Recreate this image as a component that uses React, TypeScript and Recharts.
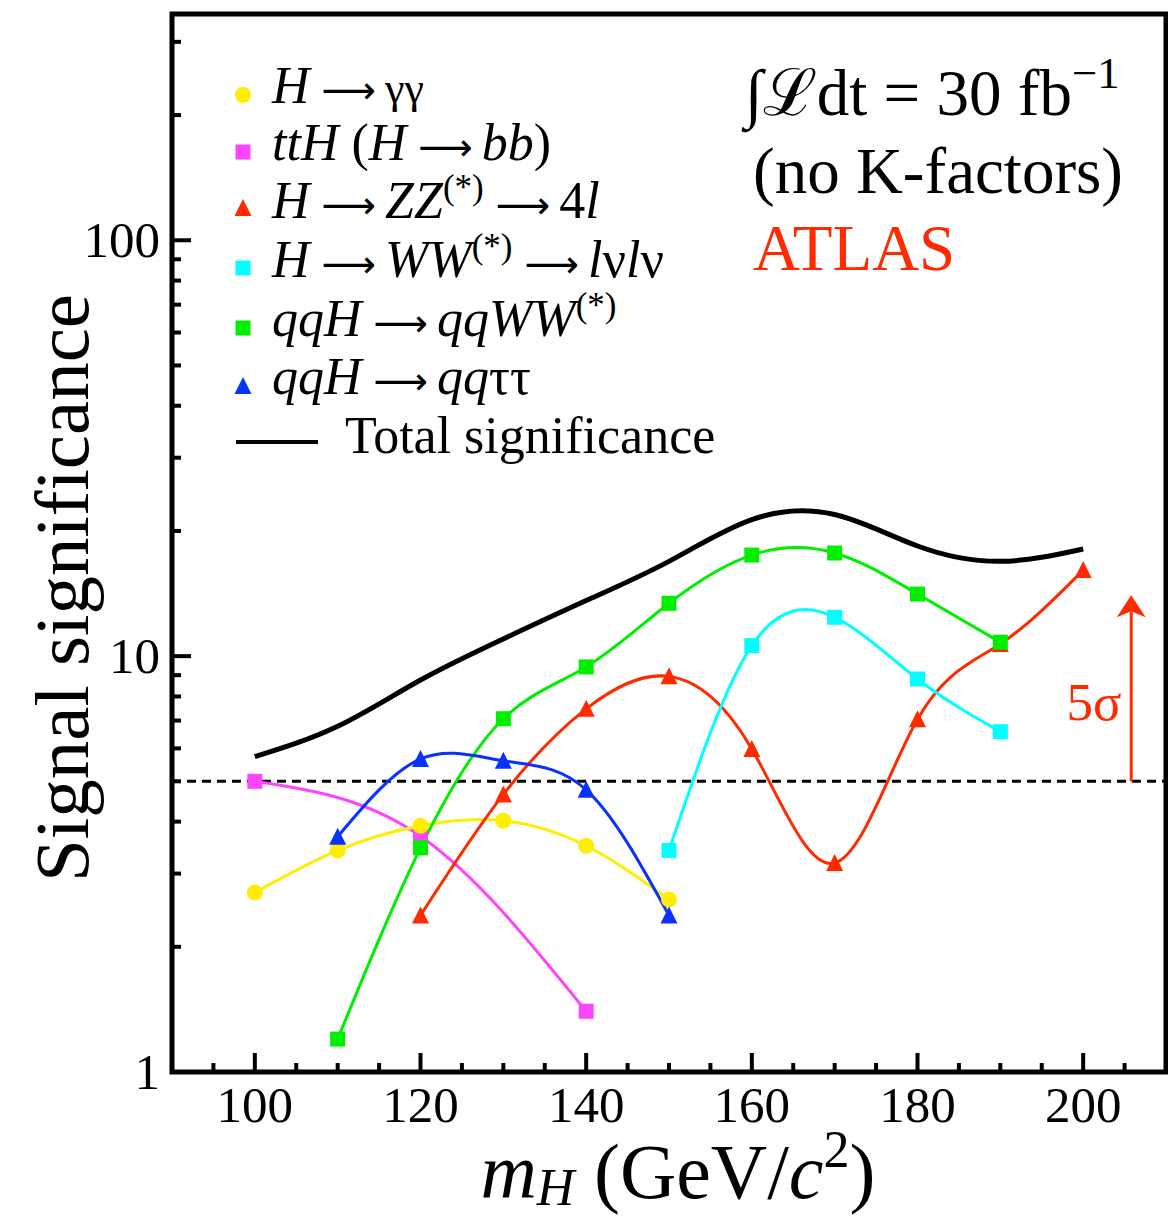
import React from 'react';
import {
  LineChart,
  Line,
  XAxis,
  YAxis,
  ReferenceLine,
  ReferenceArea,
  ReferenceDot,
  Legend,
} from 'recharts';

const SERIF = 'Liberation Serif';
const ARROW_FONT = 'DejaVu Sans';

// Colours of the channels
const YELLOW = '#ffee00';
const MAGENTA = '#ff44ff';
const RED = '#ff2a00';
const CYAN = '#00ffff';
const GREEN = '#00ee00';
const BLUE = '#0a32ff';

// Higgs mass points (GeV/c^2) and expected significances per channel
const massesGammaGamma = [100, 110, 120, 130, 140, 150];
const sigGammaGamma = [2.7, 3.41, 3.91, 4.02, 3.5, 2.6];

const massesTTH = [100, 120, 140];
const sigTTH = [5.0, 3.69, 1.4];

const massesZZ = [120, 130, 140, 150, 160, 170, 180, 190, 200];
const sigZZ = [2.38, 4.65, 7.47, 8.94, 5.98, 3.18, 7.05, 10.7, 16.1];

const massesWW = [150, 160, 170, 180, 190];
const sigWW = [3.41, 10.6, 12.4, 8.81, 6.58];

const massesQQWW = [110, 120, 130, 140, 150, 160, 170, 180, 190];
const sigQQWW = [1.2, 3.46, 7.07, 9.42, 13.4, 17.5, 17.7, 14.1, 10.8];

const massesQQTauTau = [110, 120, 130, 140, 150];
const sigQQTauTau = [3.68, 5.66, 5.6, 4.77, 2.38];

const massesTotal = [100, 110, 120, 130, 140, 150, 160, 170, 180, 190, 200];
const sigTotal = [5.73, 6.78, 8.76, 11.0, 13.6, 16.9, 21.3, 21.9, 18.4, 16.9, 18.1];

// Axes
const X_DOMAIN: [number, number] = [90, 210];
const xTicks = [95, 100, 105, 110, 115, 120, 125, 130, 135, 140, 145, 150, 155, 160, 165, 170, 175, 180, 185, 190, 195, 200, 205];
const xTickLabels = [100, 120, 140, 160, 180, 200];

const Y_DOMAIN: [number, number] = [1, 350];
const yTicks = [1, 2, 3, 4, 5, 6, 7, 8, 9, 10, 20, 30, 40, 50, 60, 70, 80, 90, 100, 200, 300];
const yTickLabels = [1, 10, 100];

// Discovery threshold and its arrow
const FIVE_SIGMA = 5;
const ARROW_MASS = 205.8;
const ARROW_TIP = 14;
const ARROW_SHAFT_END = 12.8;

const toPoints = (ms: number[], vs: number[]) => ms.map((m, i) => ({ m, v: vs[i] }));

const circleDot = (color: string) => (p: any) => {
  if (p.cx == null || p.cy == null) return <g key={`c${p.index}`} />;
  return <circle key={`c${p.index}`} cx={p.cx} cy={p.cy} r={8} fill={color} />;
};

const squareDot = (color: string) => (p: any) => {
  if (p.cx == null || p.cy == null) return <g key={`s${p.index}`} />;
  return <rect key={`s${p.index}`} x={p.cx - 7.5} y={p.cy - 7.5} width={15} height={15} fill={color} />;
};

const triangleDot = (color: string) => (p: any) => {
  if (p.cx == null || p.cy == null) return <g key={`t${p.index}`} />;
  const { cx, cy } = p;
  return (
    <path
      key={`t${p.index}`}
      d={`M${cx},${cy - 9} L${cx + 8.5},${cy + 8} L${cx - 8.5},${cy + 8} Z`}
      fill={color}
    />
  );
};

function XTick(props: any) {
  const { x, y, payload } = props;
  const v = payload.value;
  const major = xTickLabels.includes(v);
  return (
    <g>
      <line x1={x} x2={x} y1={y} y2={y - (major ? 19 : 9)} stroke="#000" strokeWidth={4} />
      {major && (
        <text x={x} y={y + 50} textAnchor="middle" fontSize={51} fontFamily={SERIF} fill="#000">
          {v}
        </text>
      )}
    </g>
  );
}

function YTick(props: any) {
  const { x, y, payload } = props;
  const v = payload.value;
  const major = yTickLabels.includes(v);
  return (
    <g>
      <line x1={x} x2={x + (major ? 19 : 9)} y1={y} y2={y} stroke="#000" strokeWidth={4} />
      {major && (
        <text x={x - 12} y={y + 17} textAnchor="end" fontSize={51} fontFamily={SERIF} fill="#000">
          {v}
        </text>
      )}
    </g>
  );
}

function ArrowHead(props: any) {
  const { cx, cy } = props;
  return (
    <path
      d={`M${cx},${cy} L${cx + 14.5},${cy + 22} L${cx},${cy + 16} L${cx - 14.5},${cy + 22} Z`}
      fill={RED}
    />
  );
}

const LEG_X_MARK = 235;
const LEG_X_TEXT = 264;
const LEG_FONT = 52;
const GREEK_FONT = 44;
const SUP = 35;
const SUP_SHIFT = 19;
const ARROW_SIZE = 38;
const GAP_BEFORE = 12;
const GAP_AFTER = 9;

// Long arrow used in the decay labels
const arrow = (dy?: number) => (
  <tspan fontFamily={ARROW_FONT} fontSize={ARROW_SIZE} dx={GAP_BEFORE} dy={dy}>
    ⟶
  </tspan>
);

function LegendBox() {
  const it = { fontStyle: 'italic' as const };
  return (
    <svg width={760} height={480} style={{ display: 'block', overflow: 'visible' }}>
      <g fontFamily={SERIF} fontSize={LEG_FONT} fill="#000">
        <circle cx={LEG_X_MARK} cy={87} r={8} fill={YELLOW} />
        <text x={LEG_X_TEXT} y={95}>
          <tspan {...it}>H</tspan>
          {arrow()}
          <tspan dx={GAP_AFTER} fontSize={GREEK_FONT}>γγ</tspan>
        </text>

        <rect x={LEG_X_MARK - 7.5} y={144 - 7.5} width={15} height={15} fill={MAGENTA} />
        <text x={LEG_X_TEXT} y={152}>
          <tspan {...it}>ttH</tspan>
          <tspan>{' ('}</tspan>
          <tspan {...it}>H</tspan>
          {arrow()}
          <tspan {...it} dx={GAP_AFTER}>bb</tspan>
          <tspan>)</tspan>
        </text>

        <path d={`M${LEG_X_MARK},${200 - 9} L${LEG_X_MARK + 8.5},${200 + 8} L${LEG_X_MARK - 8.5},${200 + 8} Z`} fill={RED} />
        <text x={LEG_X_TEXT} y={210}>
          <tspan {...it}>H</tspan>
          {arrow()}
          <tspan {...it} dx={GAP_AFTER}>ZZ</tspan>
          <tspan fontSize={SUP} dy={-SUP_SHIFT}>(*)</tspan>
          {arrow(SUP_SHIFT)}
          <tspan dx={GAP_AFTER}>4</tspan>
          <tspan {...it}>l</tspan>
        </text>

        <rect x={LEG_X_MARK - 7.5} y={260 - 7.5} width={15} height={15} fill={CYAN} />
        <text x={LEG_X_TEXT} y={269}>
          <tspan {...it}>H</tspan>
          {arrow()}
          <tspan {...it} dx={GAP_AFTER}>WW</tspan>
          <tspan fontSize={SUP} dy={-SUP_SHIFT}>(*)</tspan>
          {arrow(SUP_SHIFT)}
          <tspan {...it} dx={GAP_AFTER}>l</tspan>
          <tspan>ν</tspan>
          <tspan {...it}>l</tspan>
          <tspan>ν</tspan>
        </text>

        <rect x={LEG_X_MARK - 7.5} y={320 - 7.5} width={15} height={15} fill={GREEN} />
        <text x={LEG_X_TEXT} y={328}>
          <tspan {...it}>qqH</tspan>
          {arrow()}
          <tspan {...it} dx={GAP_AFTER}>qqWW</tspan>
          <tspan fontSize={SUP} dy={-SUP_SHIFT}>(*)</tspan>
        </text>

        <path d={`M${LEG_X_MARK},${378 - 9} L${LEG_X_MARK + 8.5},${378 + 8} L${LEG_X_MARK - 8.5},${378 + 8} Z`} fill={BLUE} />
        <text x={LEG_X_TEXT} y={386}>
          <tspan {...it}>qqH</tspan>
          {arrow()}
          <tspan {...it} dx={GAP_AFTER}>qq</tspan>
          <tspan>ττ</tspan>
        </text>

        <line x1={228} x2={310} y1={434} y2={434} stroke="#000" strokeWidth={4} />
        <text x={337} y={445}>Total significance</text>
      </g>
    </svg>
  );
}

export default function App() {
  return (
    <LineChart
      width={1160}
      height={1209}
      margin={{ top: 6, right: 2, left: 0, bottom: 0 }}
      style={{ fontFamily: SERIF }}
    >
      <XAxis
        dataKey="m"
        type="number"
        domain={X_DOMAIN}
        ticks={xTicks}
        interval={0}
        allowDataOverflow
        axisLine={false}
        tickLine={false}
        tickSize={0}
        tickMargin={0}
        tick={<XTick />}
        height={145}
      />
      <YAxis
        type="number"
        scale="log"
        domain={Y_DOMAIN}
        ticks={yTicks}
        interval={0}
        allowDataOverflow
        axisLine={false}
        tickLine={false}
        tickSize={0}
        tickMargin={0}
        tick={<YTick />}
        width={164}
      />

      <ReferenceLine y={FIVE_SIGMA} stroke="#000" strokeWidth={3} strokeDasharray="9 6" />
      <ReferenceLine
        segment={[
          { x: ARROW_MASS, y: FIVE_SIGMA },
          { x: ARROW_MASS, y: ARROW_SHAFT_END },
        ]}
        stroke={RED}
        strokeWidth={3}
      />
      <ReferenceDot x={ARROW_MASS} y={ARROW_TIP} r={0} shape={<ArrowHead />} />

      <Line data={toPoints(massesTTH, sigTTH)} dataKey="v" name="ttH" type="natural" stroke={MAGENTA} strokeWidth={3} dot={squareDot(MAGENTA)} activeDot={false} isAnimationActive={false} />
      <Line data={toPoints(massesGammaGamma, sigGammaGamma)} dataKey="v" name="gg" type="natural" stroke={YELLOW} strokeWidth={3} dot={circleDot(YELLOW)} activeDot={false} isAnimationActive={false} />
      <Line data={toPoints(massesZZ, sigZZ)} dataKey="v" name="zz" type="natural" stroke={RED} strokeWidth={3} dot={triangleDot(RED)} activeDot={false} isAnimationActive={false} />
      <Line data={toPoints(massesWW, sigWW)} dataKey="v" name="ww" type="natural" stroke={CYAN} strokeWidth={3} dot={squareDot(CYAN)} activeDot={false} isAnimationActive={false} />
      <Line data={toPoints(massesQQWW, sigQQWW)} dataKey="v" name="qqww" type="natural" stroke={GREEN} strokeWidth={3} dot={squareDot(GREEN)} activeDot={false} isAnimationActive={false} />
      <Line data={toPoints(massesQQTauTau, sigQQTauTau)} dataKey="v" name="qqtt" type="natural" stroke={BLUE} strokeWidth={3} dot={triangleDot(BLUE)} activeDot={false} isAnimationActive={false} />
      <Line data={toPoints(massesTotal, sigTotal)} dataKey="v" name="total" type="natural" stroke="#000" strokeWidth={5} dot={false} activeDot={false} isAnimationActive={false} />

      <ReferenceArea
        x1={X_DOMAIN[0]}
        x2={X_DOMAIN[1]}
        y1={Y_DOMAIN[0]}
        y2={Y_DOMAIN[1]}
        fill="none"
        fillOpacity={0}
        stroke="#000"
        strokeWidth={5}
        ifOverflow="visible"
      />

      <Legend
        layout="vertical"
        align="center"
        verticalAlign="middle"
        content={() => <LegendBox />}
        wrapperStyle={{ left: 0, top: 0, width: 760, height: 480 }}
      />

      {/* Axis titles */}
      <text
        transform="translate(80,580) rotate(-90)"
        textAnchor="middle"
        fontSize={77}
        fontFamily={SERIF}
        fill="#000"
      >
        Signal significance
      </text>
      <text x={670} y={1190} textAnchor="middle" fontSize={78} fontFamily={SERIF} fill="#000">
        <tspan fontStyle="italic">m</tspan>
        <tspan fontStyle="italic" fontSize={52} dy={7}>H</tspan>
        <tspan dy={-7}>{' (GeV/'}</tspan>
        <tspan fontStyle="italic">c</tspan>
        <tspan fontSize={52} dy={-31}>2</tspan>
        <tspan dy={31}>)</tspan>
      </text>

      {/* Luminosity and experiment labels */}
      <g fontSize={65} fontFamily={SERIF} fill="#000">
        <text x={737} y={107}>
          <tspan>∫ℒdt = 30 fb</tspan>
          <tspan fontSize={45} dy={-27}>−1</tspan>
        </text>
        <text x={745} y={185}>(no K-factors)</text>
        <text x={745} y={262} fill={RED}>ATLAS</text>
      </g>
      <text x={1086} y={712} textAnchor="middle" fontSize={53} fontFamily={SERIF} fill={RED}>
        5σ
      </text>
    </LineChart>
  );
}
